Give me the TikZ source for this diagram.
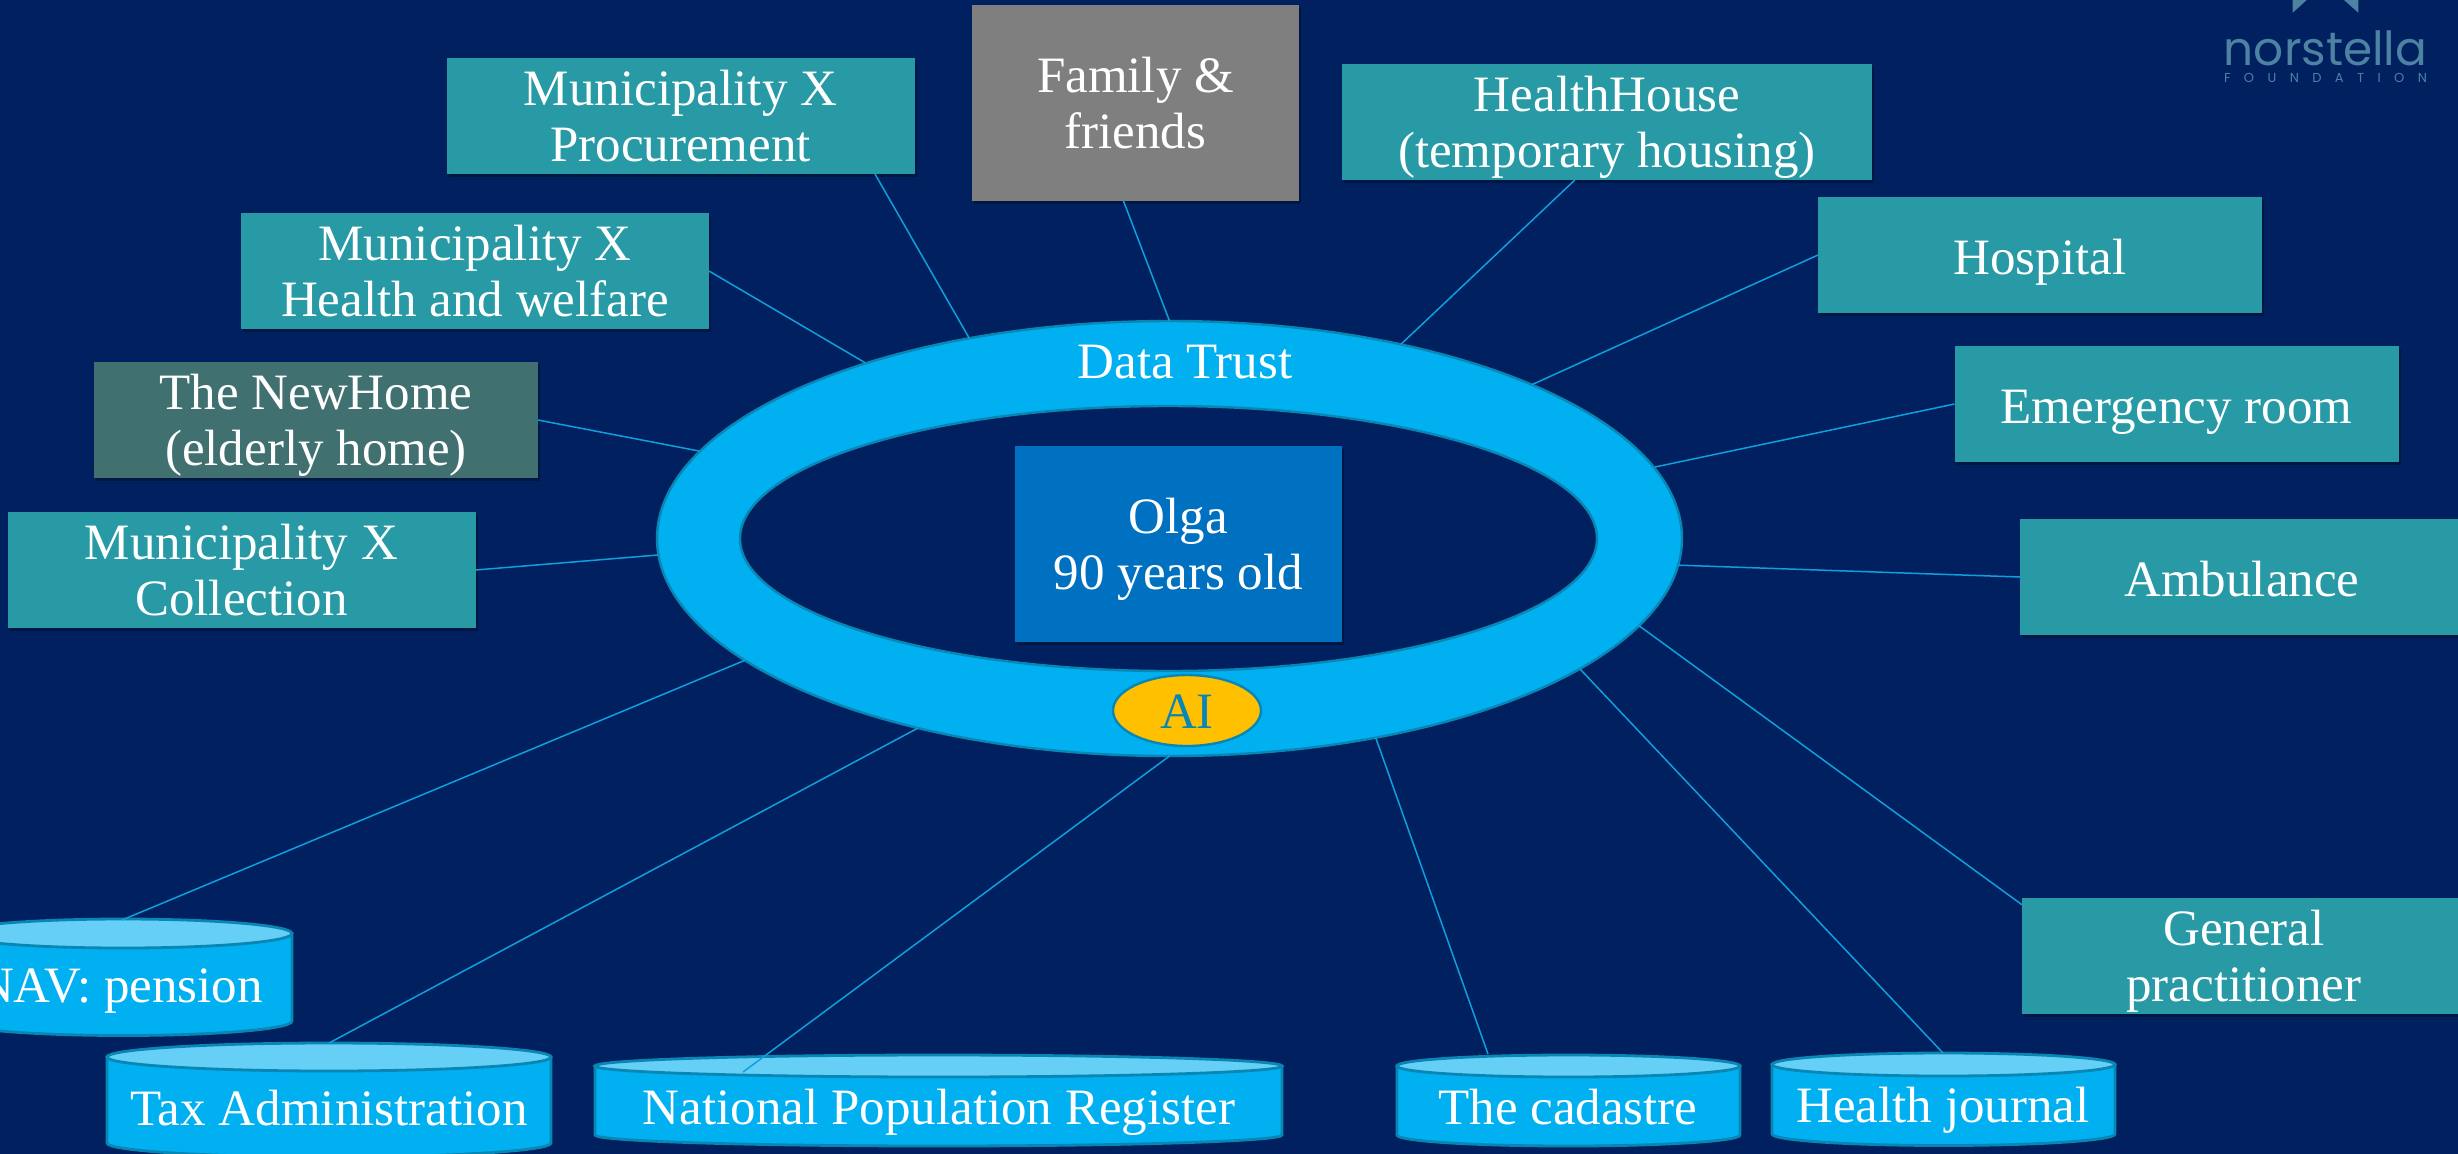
\documentclass[tikz,border=0pt]{standalone}
\usepackage{fontspec}
\setmainfont{Liberation Serif}
\newfontfamily\logofont{Poppins}
\usetikzlibrary{shapes.geometric,shadows}
\definecolor{pagebg}{HTML}{002060}
\definecolor{tealbox}{HTML}{279AA5}
\definecolor{homegreen}{HTML}{40706F}
\definecolor{greybox}{HTML}{7F7F7F}
\definecolor{olgablue}{HTML}{0070C0}
\definecolor{ringblue}{HTML}{00B0F0}
\definecolor{ringedge}{HTML}{0A86B4}
\definecolor{lidblue}{HTML}{66CFF5}
\definecolor{aigold}{HTML}{FFC000}
\definecolor{linkblue}{HTML}{0FA0DC}
\definecolor{logoblue}{HTML}{4D82A3}
% one and two centred text lines whose baselines are set apart from the node centre
\newcommand\oneline[1]{\hbox to 0pt{\hss\smash{\raisebox{-9.5pt}{#1}}\hss}}
\newcommand\twolines[2]{\hbox to 0pt{\hss\smash{\raisebox{5.5pt}{#1}}\hss}\hbox to 0pt{\hss\smash{\raisebox{-22.5pt}{#2}}\hss}}
% left, right, top, top of side, bottom of side
\newcommand\drum[5]{%
  \pgfmathsetmacro\rxv{(#2-#1)/4}%
  \pgfmathsetmacro\ryv{(#4-#3)/2}%
  \pgfmathsetmacro\cxv{(#1+#2)/2}%
  \draw[drumbody] (#1,#4) -- (#1,#5) arc[start angle=180,end angle=360,x radius=\rxv pt,y radius=\ryv pt] -- (#2,#4) -- cycle;
  \draw[drumlid] (\cxv,#4) ellipse[x radius=\rxv pt,y radius=\ryv pt];
}
\tikzset{
  txt/.style={font=\fontsize{25.5}{28}\selectfont,text=white},
  plain/.style={txt,rectangle,inner sep=0pt,outer sep=0pt,
    drop shadow={shadow xshift=1pt,shadow yshift=-1.5pt,opacity=.3,fill=black}},
  tealwide/.style={plain,fill=tealbox,minimum width=234pt,minimum height=58pt},
  tealnarrow/.style={plain,fill=tealbox,minimum width=222pt,minimum height=58pt},
  tealhouse/.style={plain,fill=tealbox,minimum width=265pt,minimum height=58pt},
  homebox/.style={plain,fill=homegreen,minimum width=222pt,minimum height=58pt},
  bigbox/.style={plain,minimum width=163.5pt,minimum height=98pt},
  drumbody/.style={fill=ringblue,draw=ringedge,line width=1.4pt},
  drumlid/.style={fill=lidblue,draw=ringedge,line width=1.4pt},
  drumtext/.style={txt,anchor=base,inner sep=0pt},
  ringpart/.style={ellipse,draw=ringedge,line width=1.2pt,inner sep=0pt,outer sep=0pt},
  link/.style={draw=linkblue,line width=.75pt},
}
\begin{document}
\begin{tikzpicture}[x=.5pt,y=-.5pt]
\useasboundingbox (0,0) rectangle (2458,1153);
\fill[pagebg] (-20,-20) rectangle (2480,1175);

% logo
\fill[logoblue] (2292.7,0) -- (2292.7,12.7) -- (2306.7,0) -- cycle;
\fill[logoblue] (2344,0) -- (2358.3,12.7) -- (2358.3,0) -- cycle;
\node[anchor=base,inner sep=0pt,text=logoblue,font=\logofont\fontsize{23.5}{25}\selectfont] (logoname) at (2325.5,65) {norstella};
\node[anchor=base,inner sep=0pt,text=logoblue,font=\logofont\fontsize{6.5}{8}\selectfont] (logofoundation) at (2325.5,82) {\makebox[101.5pt][s]{F\hfill O\hfill U\hfill N\hfill D\hfill A\hfill T\hfill I\hfill O\hfill N}};

% ring
\node[ringpart,fill=ringblue,minimum width=512.5pt,minimum height=217.5pt] (ring) at (1169.5,538.5) {};
\node[ringpart,fill=pagebg,minimum width=428.5pt,minimum height=132.5pt] (hole) at (1168.5,538.5) {};
\node[txt,anchor=base,inner sep=0pt] (trust) at (1185,378) {Data Trust};
\node[ringpart,fill=aigold,minimum width=74pt,minimum height=35.5pt] (aiblob) at (1187,710.5) {};
\node[txt,text=ringedge,anchor=base,inner sep=0pt] (ailabel) at (1187,728) {AI};

% boxes
\node[bigbox,fill=olgablue] (olga) at (1178.5,544) {\twolines{Olga}{90 years old}};
\node[bigbox,fill=greybox] (family) at (1135.5,103) {\twolines{Family \&}{friends}};
\node[tealwide] (proc) at (680.5,116) {\twolines{Municipality X}{Procurement}};
\node[tealwide] (welfare) at (475,271) {\twolines{Municipality X}{Health and welfare}};
\node[homebox] (newhome) at (316,420) {\twolines{The NewHome}{(elderly home)}};
\node[tealwide] (collect) at (241.5,570) {\twolines{Municipality X}{Collection}};
\node[tealhouse] (house) at (1607,122) {\twolines{HealthHouse}{(temporary housing)}};
\node[tealnarrow] (hospital) at (2040,255) {\oneline{Hospital}};
\node[tealnarrow] (emergency) at (2176.5,404) {\oneline{Emergency room}};
\node[tealnarrow] (ambulance) at (2242,577) {\oneline{Ambulance}};
\node[tealnarrow] (gp) at (2244,956) {\twolines{General}{practitioner}};

% data stores
\drum{-46}{292}{919}{933.5}{1021}
\node[drumtext] (nav) at (120,1002) {NAV: pension};
\drum{107}{551}{1043}{1057}{1143}
\node[drumtext] (tax) at (329,1125) {Tax Administration};
\drum{595}{1282}{1055}{1066}{1135}
\node[drumtext] (npr) at (939,1124) {National Population Register};
\drum{1397}{1740}{1055}{1066}{1135}
\node[drumtext] (cadastre) at (1568,1124) {The cadastre};
\drum{1772}{2115}{1053}{1064.5}{1134}
\node[drumtext] (journal) at (1943,1122) {Health journal};

\coordinate (navtop) at (122,920);
\coordinate (taxtop) at (329,1043);
\coordinate (nprtop) at (743,1072);
\coordinate (cadtop) at (1488,1054);
\coordinate (jourtop) at (1943,1053);
\coordinate (ringer) at (1655,467);
\coordinate (ringgp) at (1638,625);
\coordinate (ringjour) at (1580,669);
\coordinate (ringcoll) at (658,555);
\coordinate (ringhome) at (699,451);
\coordinate (procfoot) at (875,174);

% connectors
\draw[link] (procfoot) -- (ring.135.1);
\draw[link] (family.-97.3) -- (ring.90);
\draw[link] (house.-119.6) -- (ring.40.3);
\draw[link] (hospital.west) -- (ring.23);
\draw[link] (emergency.west) -- (ringer);
\draw[link] (ambulance.west) -- (ring.-3.6);
\draw[link] (gp.167.7) -- (ringgp);
\draw[link] (jourtop) -- (ringjour);
\draw[link] (cadtop) -- (ring.-44.5);
\draw[link] (nprtop) -- (ring.-90);
\draw[link] (taxtop) -- (ring.-143.6);
\draw[link] (navtop) -- (ring.196.3);
\draw[link] (collect.east) -- (ringcoll);
\draw[link] (newhome.east) -- (ringhome);
\draw[link] (welfare.east) -- (ring.150.1);
\end{tikzpicture}
\end{document}
